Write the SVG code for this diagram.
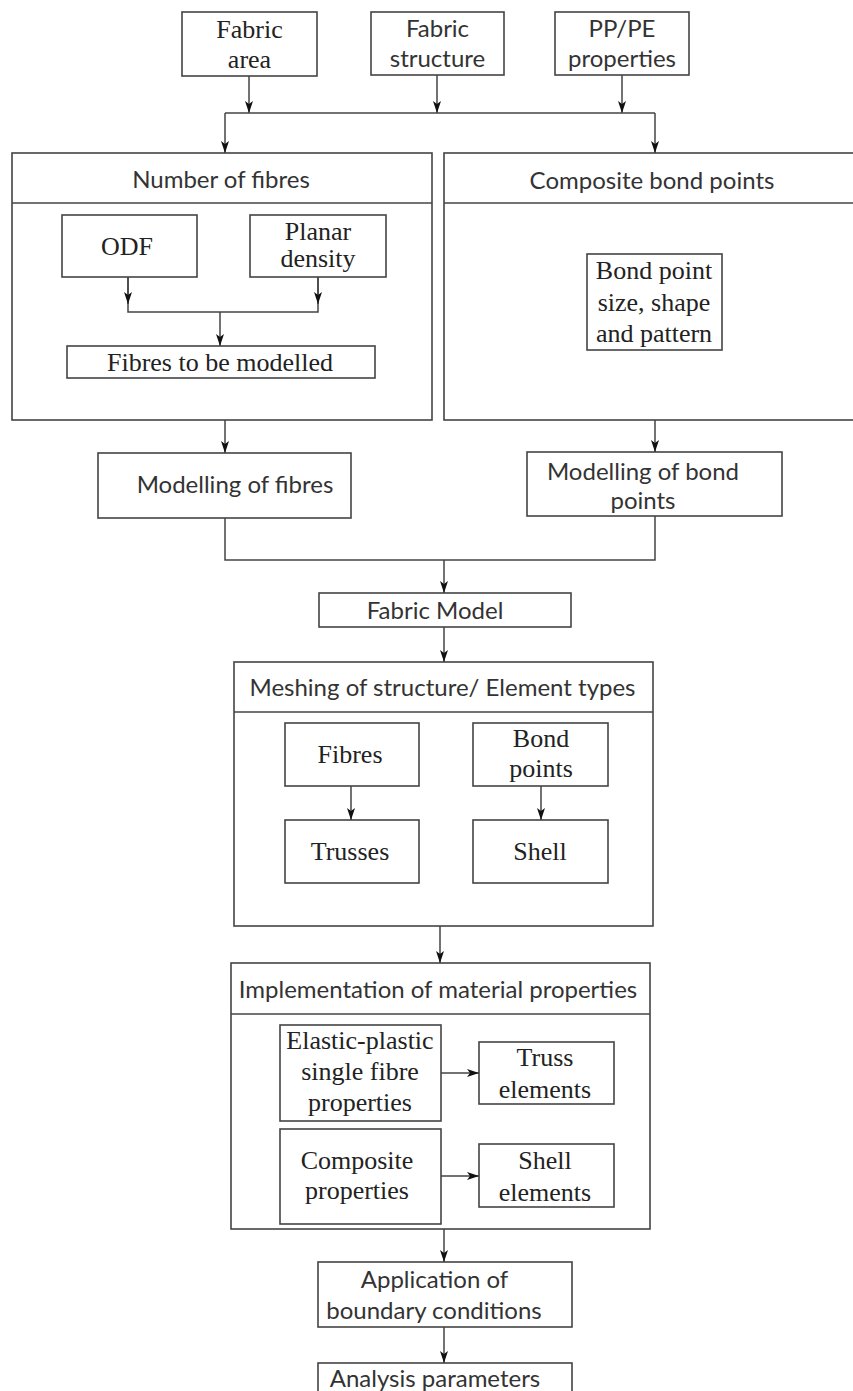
<svg xmlns="http://www.w3.org/2000/svg" width="853" height="1391" viewBox="0 0 853 1391">
<defs>
<marker id="arr" viewBox="0 0 12 8" refX="12" refY="4" markerWidth="13" markerHeight="8" markerUnits="userSpaceOnUse" orient="auto">
<path d="M0,0 L12,4 L0,8 L3,4 z" fill="#111"/>
</marker>
<style>
rect{fill:none;stroke:#444;stroke-width:1.6}
line,path.c{fill:none;stroke:#444;stroke-width:1.5}
.a{marker-end:url(#arr)}
.s{font-family:Lato,"Liberation Sans",sans-serif;font-size:24px;fill:#333;text-anchor:middle}
.t{font-family:"Liberation Serif","Times New Roman",serif;font-size:26px;fill:#222;text-anchor:middle}
</style>
</defs>
<rect x="0" y="0" width="853" height="1391" style="fill:#fff;stroke:none"/>

<g id="fabric-area"><rect x="182" y="12" width="135" height="64"/><text class="t" x="249.5" y="38">Fabric</text><text class="t" x="249.5" y="68">area</text></g>
<g id="fabric-structure"><rect x="371" y="12" width="133" height="63"/><text class="s" x="437.5" y="37">Fabric</text><text class="s" x="437.5" y="67">structure</text></g>
<g id="pppe"><rect x="555" y="12" width="134" height="63"/><text class="s" x="622" y="37">PP/PE</text><text class="s" x="622" y="67">properties</text></g>

<g id="number-of-fibres"><rect x="12" y="153" width="420" height="267"/><line x1="12" y1="203" x2="432" y2="203"/><text class="s" x="221" y="188">Number of fibres</text></g>
<g id="odf"><rect x="62" y="215" width="135" height="62"/><text class="t" x="127" y="255">ODF</text></g>
<g id="planar-density"><rect x="250" y="215" width="136" height="62"/><text class="t" x="318" y="240">Planar</text><text class="t" x="318" y="267">density</text></g>
<g id="fibres-to-be-modelled"><rect x="67" y="346" width="308" height="32"/><text class="t" x="220" y="371">Fibres to be modelled</text></g>

<g id="composite-bond-points"><rect x="444" y="153" width="415" height="267"/><line x1="444" y1="203" x2="859" y2="203"/><text class="s" x="652" y="189">Composite bond points</text></g>
<g id="bond-point-size"><rect x="587" y="254" width="135" height="96"/><text class="t" x="654" y="279">Bond point</text><text class="t" x="654" y="311">size, shape</text><text class="t" x="654" y="342">and pattern</text></g>

<g id="modelling-fibres"><rect x="98" y="453" width="253" height="65"/><text class="s" x="235" y="493">Modelling of fibres</text></g>
<g id="modelling-bond"><rect x="527" y="452" width="255" height="64"/><text class="s" x="643" y="480">Modelling of bond</text><text class="s" x="643" y="509">points</text></g>

<g id="fabric-model"><rect x="319" y="593" width="252" height="34"/><text class="s" x="435" y="619">Fabric Model</text></g>

<g id="meshing"><rect x="234" y="662" width="419" height="264"/><line x1="234" y1="712" x2="653" y2="712"/><text class="s" x="442.5" y="696">Meshing of structure/ Element types</text></g>
<g id="fibres"><rect x="285" y="723" width="134" height="63"/><text class="t" x="350" y="763">Fibres</text></g>
<g id="bond-points"><rect x="473" y="723" width="135" height="63"/><text class="t" x="541" y="747">Bond</text><text class="t" x="541" y="777">points</text></g>
<g id="trusses"><rect x="285" y="820" width="134" height="63"/><text class="t" x="350" y="860">Trusses</text></g>
<g id="shell"><rect x="473" y="820" width="135" height="63"/><text class="t" x="540" y="860">Shell</text></g>

<g id="implementation"><rect x="231" y="963" width="419" height="266"/><line x1="231" y1="1014" x2="650" y2="1014"/><text class="s" x="438" y="998">Implementation of material properties</text></g>
<g id="elastic-plastic"><rect x="280" y="1025" width="161" height="96"/><text class="t" x="360" y="1049">Elastic-plastic</text><text class="t" x="360" y="1080">single fibre</text><text class="t" x="360" y="1111">properties</text></g>
<g id="truss-elements"><rect x="479" y="1042" width="135" height="62"/><text class="t" x="545" y="1066">Truss</text><text class="t" x="545" y="1098">elements</text></g>
<g id="composite-properties"><rect x="280" y="1129" width="161" height="95"/><text class="t" x="357" y="1169">Composite</text><text class="t" x="357" y="1199">properties</text></g>
<g id="shell-elements"><rect x="479" y="1144" width="135" height="63"/><text class="t" x="545" y="1169">Shell</text><text class="t" x="545" y="1201">elements</text></g>

<g id="application"><rect x="318" y="1262" width="254" height="65"/><text class="s" x="434.5" y="1288">Application of</text><text class="s" x="434" y="1319">boundary conditions</text></g>
<g id="analysis"><rect x="318" y="1363" width="254" height="40"/><text class="s" x="435" y="1387">Analysis parameters</text></g>

<g id="connectors">
<line class="a" x1="249" y1="76" x2="249" y2="113"/>
<line class="a" x1="437" y1="75" x2="437" y2="113"/>
<line class="a" x1="622" y1="75" x2="622" y2="113"/>
<line x1="225" y1="113" x2="655" y2="113"/>
<line class="a" x1="225" y1="113" x2="225" y2="153"/>
<line class="a" x1="655" y1="113" x2="655" y2="153"/>
<path class="c" d="M128,277 L128,312 L318,312 L318,277"/>
<line class="a" x1="128" y1="277" x2="128" y2="304"/>
<line class="a" x1="318" y1="277" x2="318" y2="304"/>
<line class="a" x1="220" y1="312" x2="220" y2="346"/>
<line class="a" x1="225" y1="420" x2="225" y2="453"/>
<line class="a" x1="655" y1="420" x2="655" y2="452"/>
<path class="c" d="M225,518 L225,560 L655,560 L655,516"/>
<line class="a" x1="444" y1="560" x2="444" y2="593"/>
<line class="a" x1="444" y1="627" x2="444" y2="662"/>
<line class="a" x1="351" y1="786" x2="351" y2="820"/>
<line class="a" x1="541" y1="786" x2="541" y2="820"/>
<line class="a" x1="440" y1="926" x2="440" y2="963"/>
<line class="a" x1="441" y1="1073" x2="479" y2="1073"/>
<line class="a" x1="441" y1="1176" x2="479" y2="1176"/>
<line class="a" x1="444" y1="1229" x2="444" y2="1262"/>
<line class="a" x1="444" y1="1327" x2="444" y2="1363"/>
</g>
</svg>
